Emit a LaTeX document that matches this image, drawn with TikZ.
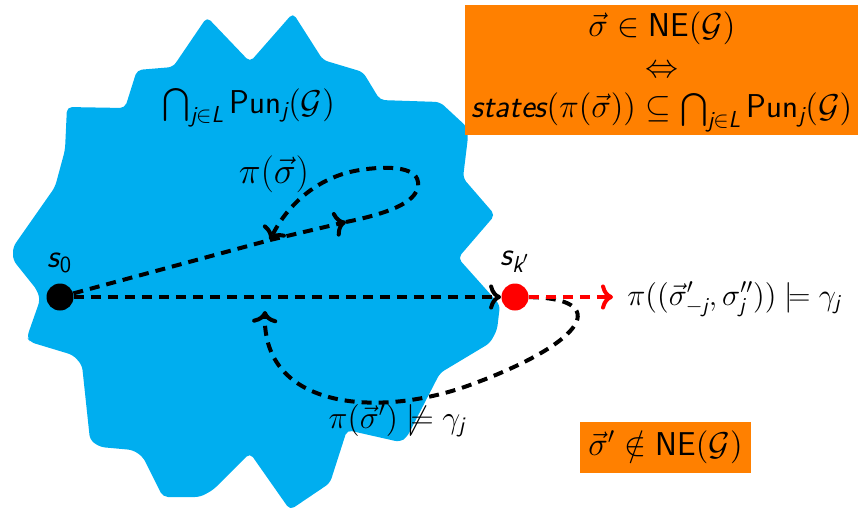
\RequirePackage{fix-cm}
\documentclass[tikz,border=0pt]{standalone}
\usepackage{amsmath,amssymb}
\usepackage{fontspec}
\usepackage{tikz}
\usetikzlibrary{arrows.meta,calc,positioning}
\newfontface\sfobl{lmsans17-oblique.otf}
\definecolor{blobblue}{RGB}{0,174,239}
\definecolor{neorange}{RGB}{255,128,0}
\newcommand{\sfi}[1]{\text{\sfobl #1}}
\newcommand{\sfu}[1]{\textsf{#1}}
\tikzset{
  blob/.style  = {fill=blobblue, rounded corners=2.5pt},
  dot/.style   = {circle, fill=black, inner sep=0pt, minimum size=13.5pt},
  run/.style   = {line width=2pt, dash pattern=on 5pt off 3.5pt},
  goal/.style  = {fill=neorange, inner sep=0pt},
  lbl/.style   = {inner sep=0pt},
  big/.style   = {font=\fontsize{16.5}{18.25}\selectfont},
  small/.style = {font=\fontsize{15.3}{17}\selectfont},
}

\begin{document}
\begin{tikzpicture}[x=0.5pt,y=-0.5pt]
  \useasboundingbox (0,0) rectangle (858,511);
  \fill[blob] (67,107) -- (125,108) -- (137,70) -- (173,67) -- (207,17) -- (250,62)
    -- (293,13) -- (323,60) -- (363,72) -- (380,100) -- (440,102) -- (467,127)
    -- (468,137) -- (463,178) -- (495,215) -- (458,258) -- (500,305) -- (497,330)
    -- (490,343) -- (440,373) -- (407,437) -- (400,442) -- (347,430) -- (330,483)
    -- (290,510) -- (250,453) -- (213,490) -- (200,497) -- (163,497) -- (143,457)
    -- (133,450) -- (100,447) -- (90,440) -- (82,365) -- (73,355) -- (30,342)
    -- (27,337) -- (40,300) -- (37,290) -- (13,260) -- (13,247) -- (55,187)
    -- (65,150) -- cycle;
  \node[goal, minimum width=196.5pt, minimum height=65pt] (ne) at (661.5,70) {};
  \node[lbl, big, align=center] (netext) at (662,72)
    {$\vec{\sigma}\in\sfu{NE}(\mathcal{G})$\\[2pt] $\Leftrightarrow$\\[2pt]
     $\sfi{states}(\pi(\vec{\sigma}))\subseteq\bigcap_{\sfi{j}\in\sfi{L}}\sfu{Pun}_{\sfi{j}}(\mathcal{G})$};
  \node[goal, big, minimum width=85.5pt, minimum height=25.5pt] (notne) at (665.5,447.5)
    {$\vec{\sigma}'\notin\sfu{NE}(\mathcal{G})$};
  \node[lbl, big, anchor=base] (pun) at (249,113)
    {$\bigcap_{\sfi{j}\in\sfi{L}}\sfu{Pun}_{\sfi{j}}(\mathcal{G})$};
  \node[dot] (s0) at (60,297) {};
  \node[dot, fill=red] (sk) at (515,297) {};
  \node[lbl, big, above=5pt of s0] (s0l) {$\sfi{s}_{\sfu{0}}$};
  \node[lbl, big, above=5pt of sk] (skl) {$\sfi{s}_{\sfi{k}'}$};
  \node[lbl, font=\fontsize{18.5}{20}\selectfont, anchor=base] (pis) at (274,183) {$\pi(\vec{\sigma})$};
  \node[lbl, font=\fontsize{16}{18}\selectfont, anchor=base] (pisp) at (397,428)
    {$\pi(\vec{\sigma}')\not\models\gamma_{\sfi{j}}$};
  \node[lbl, small, anchor=base west] (pidev) at (627,305)
    {$\pi((\vec{\sigma}'_{-\sfi{j}},\sigma''_{\sfi{j}}))\models\gamma_{\sfi{j}}$};
  \coordinate (lp1) at (270,240);
  \coordinate (lp2) at (346,222);
  \coordinate (bk) at (470,385);
  \coordinate (hk) at (265,311);
  \draw[run] (s0) -- (lp1);
  \draw[run,->] (lp1) -- (lp2);
  \draw[run,->] (lp2) .. controls (395,212) and (420,200) .. (418,182)
    .. controls (416,166) and (385,166) .. (360,170)
    .. controls (320,176) and (288,203) .. (lp1);
  \draw[run,->] (s0) -- (sk);
  \draw[run,->] (sk) .. controls (610,298) and (590,341) .. (bk)
    .. controls (380,418) and (262,410) .. (hk);
  \draw[run,->,red,shorten >=7pt] (sk) -- (sk -| pidev.west);
\end{tikzpicture}
\end{document}
